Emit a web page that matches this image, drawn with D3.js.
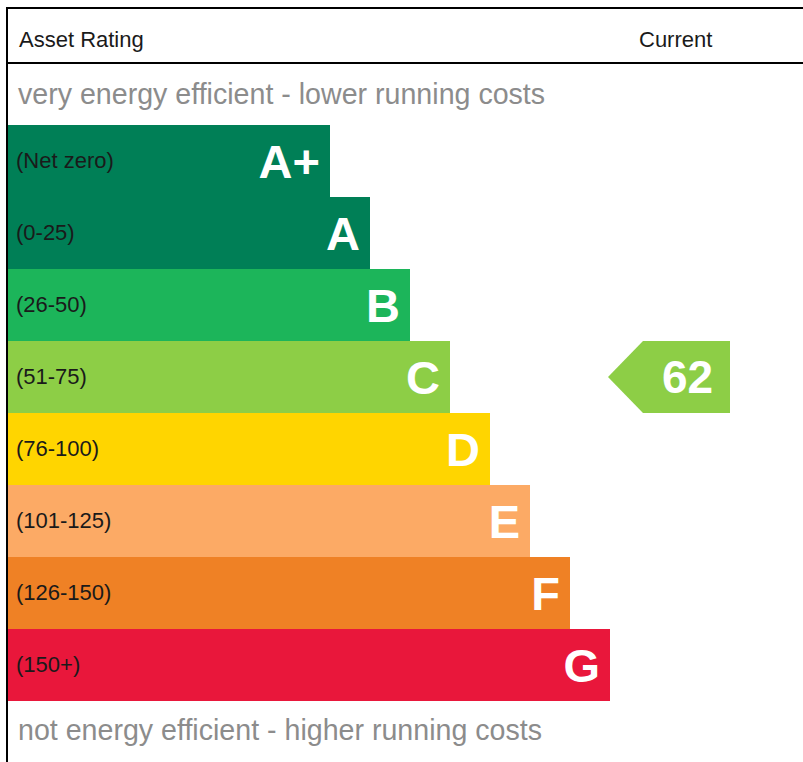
<!DOCTYPE html>
<html>
    <head>
        <meta charset="utf-8">
        <style>
            body { margin: 0; background: #fff; }
            svg { display: block; font-family: Arial, "Liberation Sans", sans-serif; }
            .head { font-size: 22px; fill: #1a1a1a; }
            .note { font-size: 28.6px; fill: #8c8c8c; }
            .range { font-size: 22px; fill: #1a1a1a; }
            .letter { font-size: 47px; font-weight: bold; fill: #fff; text-anchor: end; }
            .score { font-size: 46px; font-weight: bold; fill: #fff; text-anchor: middle; }
        </style>
    </head>
    <body>
        <script src="https://cdn.jsdelivr.net/npm/d3@7"></script>
        <script>
            var ratings = ["A+", "A", "B", "C", "D", "E", "F", "G"];
            var ranges = ["(Net zero)", "(0-25)", "(26-50)", "(51-75)", "(76-100)", "(101-125)", "(126-150)", "(150+)"];
            var colors = ["#007f56", "#007f56", "#1cb55a", "#8dce46", "#ffd500", "#fcaa65", "#ef8125", "#e9173b"];
            var headers = ["Asset Rating", "Current"];
            var topNote = "very energy efficient - lower running costs";
            var bottomNote = "not energy efficient - higher running costs";
            var current = { value: 62, rating: "C" };

            var width = 803, height = 762;

            var svg = d3.select("body").append("svg")
                .attr("width", width)
                .attr("height", height);

            var y = d3.scaleBand().domain(ratings).range([125, 701]);
            // bar right edge grows by one step per band
            var x = d3.scaleLinear().domain([0, ratings.length - 1]).range([330, 610]);

            // frame
            svg.append("line").attr("x1", 6).attr("x2", width).attr("y1", 8).attr("y2", 8)
                .attr("stroke", "#000").attr("stroke-width", 2);
            svg.append("line").attr("x1", 6).attr("x2", width).attr("y1", 63).attr("y2", 63)
                .attr("stroke", "#000").attr("stroke-width", 2);
            svg.append("line").attr("x1", 7).attr("x2", 7).attr("y1", 7).attr("y2", height)
                .attr("stroke", "#000").attr("stroke-width", 2);

            svg.append("text").attr("class", "head").attr("x", 19).attr("y", 47).text(headers[0]);
            svg.append("text").attr("class", "head").attr("x", 639).attr("y", 47).text(headers[1]);

            svg.append("text").attr("class", "note").attr("x", 18).attr("y", 104).text(topNote);
            svg.append("text").attr("class", "note").attr("x", 18).attr("y", 740).text(bottomNote);

            var row = svg.selectAll(".row")
                .data(ratings)
                .enter().append("g")
                .attr("class", "row")
                .attr("transform", function(d) { return "translate(0," + y(d) + ")"; });

            row.append("rect")
                .attr("x", 8)
                .attr("y", 0)
                .attr("width", function(d, i) { return x(i) - 8; })
                .attr("height", y.bandwidth())
                .attr("fill", function(d, i) { return colors[i]; });

            row.append("text")
                .attr("class", "range")
                .attr("x", 16)
                .attr("y", y.bandwidth() / 2 + 7)
                .text(function(d, i) { return ranges[i]; });

            row.append("text")
                .attr("class", "letter")
                .attr("x", function(d, i) { return x(i) - 10; })
                .attr("y", y.bandwidth() / 2 + 17)
                .text(function(d) { return d; });

            // current rating arrow
            var ci = ratings.indexOf(current.rating);
            var arrowTop = y(current.rating), bh = y.bandwidth();
            var tip = 608, shoulder = 643, right = 730;
            svg.append("path")
                .attr("d", "M" + tip + "," + (arrowTop + bh / 2) +
                           "L" + shoulder + "," + arrowTop +
                           "L" + right + "," + arrowTop +
                           "L" + right + "," + (arrowTop + bh) +
                           "L" + shoulder + "," + (arrowTop + bh) + "Z")
                .attr("fill", colors[ci]);

            svg.append("text")
                .attr("class", "score")
                .attr("x", (shoulder + right) / 2 + 1)
                .attr("y", arrowTop + bh / 2 + 16)
                .text(current.value);
        </script>
    </body>
</html>
